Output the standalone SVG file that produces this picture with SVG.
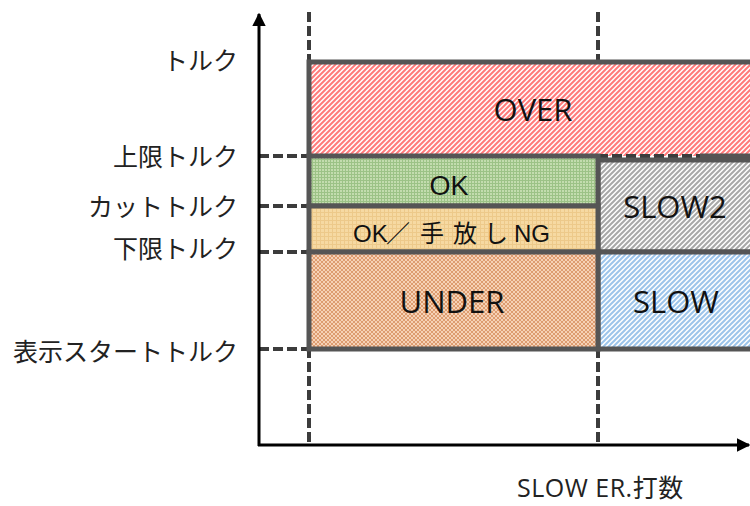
<svg xmlns="http://www.w3.org/2000/svg" width="750" height="506" viewBox="0 0 750 506">
  <style>
    .box { stroke: #555; stroke-width: 5; }
    .dash { stroke: #3c3c3c; stroke-width: 4; stroke-dasharray: 10 4; fill: none; }
    .axis { stroke: #000; stroke-width: 3; fill: none; }
    .lbl { font-family: "Noto Sans CJK JP", sans-serif; font-size: 25px; fill: #222; text-anchor: end; }
    .big { font-family: "Open Sans", "Noto Sans CJK JP", sans-serif; font-size: 31px; fill: #111; text-anchor: middle; }
    .mid { font-family: "Liberation Sans", "Noto Sans CJK JP", sans-serif; fill: #111; }
    .xl { font-family: "Open Sans", "Noto Sans CJK JP", sans-serif; font-size: 25px; fill: #222; }
  </style>
  <defs>
    <pattern id="pRed" patternUnits="userSpaceOnUse" width="5" height="5">
      <rect width="5" height="5" fill="#ffffff"/>
      <path d="M-1,1 L1,-1 M0,5 L5,0 M4,6 L6,4" stroke="#ff7a7a" stroke-width="2"/>
    </pattern>
    <pattern id="pGray" patternUnits="userSpaceOnUse" width="5" height="5">
      <rect width="5" height="5" fill="#ffffff"/>
      <path d="M-1,1 L1,-1 M0,5 L5,0 M4,6 L6,4" stroke="#a8a8a8" stroke-width="2"/>
    </pattern>
    <pattern id="pBlue" patternUnits="userSpaceOnUse" width="5" height="5">
      <rect width="5" height="5" fill="#ffffff"/>
      <path d="M-1,1 L1,-1 M0,5 L5,0 M4,6 L6,4" stroke="#9cc4ea" stroke-width="2"/>
    </pattern>
    <pattern id="pGreen" patternUnits="userSpaceOnUse" width="3" height="3">
      <rect width="3" height="3" fill="#c3dcae"/>
      <path d="M0.5,0 V3 M0,0.5 H3" stroke="#9cc286" stroke-width="1"/>
    </pattern>
    <pattern id="pTan" patternUnits="userSpaceOnUse" width="4" height="4">
      <rect width="4" height="4" fill="#f6d9a2"/>
      <path d="M0.5,0 V4 M0,0.5 H4" stroke="#edc98a" stroke-width="1"/>
    </pattern>
    <pattern id="pOrange" patternUnits="userSpaceOnUse" width="4" height="4">
      <rect width="4" height="4" fill="#f6d2b6"/>
      <path d="M0,0 L4,4 M4,0 L0,4" stroke="#dd9c70" stroke-width="1"/>
    </pattern>
    <marker id="arr" viewBox="0 0 10 10" refX="9" refY="5" markerWidth="4.5" markerHeight="4.5" orient="auto" markerUnits="strokeWidth">
      <path d="M0,0 L10,5 L0,10 Z" fill="#000"/>
    </marker>
  </defs>

  <g id="connectors">
    <line class="dash" x1="309" y1="12" x2="309" y2="445"/>
    <line class="dash" x1="598" y1="12" x2="598" y2="445"/>
    <line class="dash" x1="259" y1="156" x2="309" y2="156"/>
    <line class="dash" x1="259" y1="206" x2="309" y2="206"/>
    <line class="dash" x1="259" y1="252" x2="309" y2="252"/>
    <line class="dash" x1="259" y1="349" x2="309" y2="349"/>
  </g>

  <g id="over">
    <rect x="309" y="62" width="460" height="94" fill="url(#pRed)"/>
    <path d="M309,156 V62 H770" fill="none" stroke="#555" stroke-width="5"/>
    <line class="dash" x1="598" y1="156" x2="700" y2="156"/>
    <line x1="700" y1="156" x2="760" y2="156" stroke="#555" stroke-width="5"/>
    <text class="big" x="533" y="121">OVER</text>
  </g>

  <g id="slow2">
    <rect class="box" x="598" y="160" width="170" height="92" fill="url(#pGray)"/>
    <text class="big" x="675" y="218">SLOW2</text>
  </g>

  <g id="slow">
    <rect class="box" x="598" y="252" width="170" height="97" fill="url(#pBlue)"/>
    <text class="big" x="676" y="313">SLOW</text>
  </g>

  <g id="ok">
    <rect class="box" x="309" y="156" width="289" height="50" fill="url(#pGreen)"/>
    <text class="mid" x="449" y="195" font-size="27" text-anchor="middle">OK</text>
  </g>

  <g id="okng">
    <rect class="box" x="309" y="206" width="289" height="46" fill="url(#pTan)"/>
    <text class="mid" y="242" font-size="24"><tspan x="353">OK</tspan><tspan x="386">／</tspan><tspan x="420">手</tspan><tspan x="453">放</tspan><tspan x="484">し</tspan><tspan x="514">NG</tspan></text>
  </g>

  <g id="under">
    <rect class="box" x="309" y="252" width="289" height="97" fill="url(#pOrange)"/>
    <text class="big" x="452" y="313">UNDER</text>
  </g>

  <g id="axes">
    <line class="axis" x1="259" y1="446" x2="259" y2="14" marker-end="url(#arr)"/>
    <line class="axis" x1="258" y1="445" x2="749" y2="445" marker-end="url(#arr)"/>
  </g>

  <g id="labels">
    <text class="lbl" x="238" y="70">トルク</text>
    <text class="lbl" x="238" y="166">上限トルク</text>
    <text class="lbl" x="238" y="216">カットトルク</text>
    <text class="lbl" x="238" y="258">下限トルク</text>
    <text class="lbl" x="238" y="361">表示スタートトルク</text>
    <text class="xl" x="517" y="497" letter-spacing="0.5">SLOW ER.打数</text>
  </g>
</svg>
